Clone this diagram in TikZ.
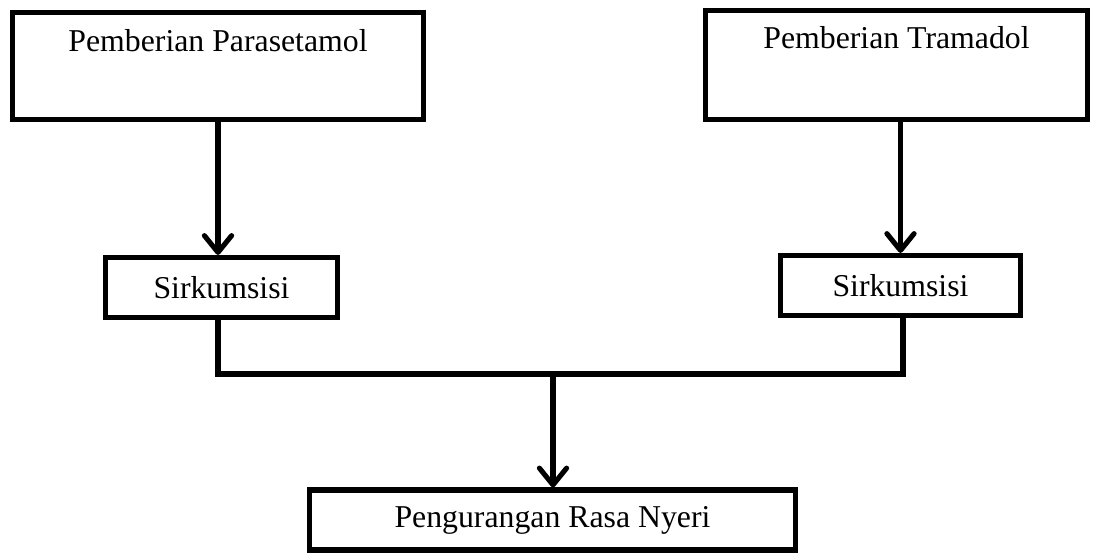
\documentclass[tikz,border=0pt]{standalone}
\usepackage{fontspec}
\setmainfont{Liberation Serif}
\usetikzlibrary{arrows.meta}

\tikzset{
  box/.style={draw, line width=1.8pt, rectangle, inner xsep=0pt, inner ysep=0pt,
    font=\fontsize{11.3}{13}\selectfont},
  flow/.style={line width=1.8pt, -{Straight Barb[length=0.21cm, width=0.34cm, line width=1.8pt, round]}},
  link/.style={line width=1.8pt}
}

\begin{document}
\begin{tikzpicture}[x=0.0125cm, y=-0.0125cm]

% Page frame
\useasboundingbox (0,0) rectangle (1093,555);

% Top boxes (text sits near the top edge)
\node[box, minimum width=5.14cm, text height=0.494cm, text depth=0.844cm]
  (para) at (218,66) {Pemberian Parasetamol};
\node[box, minimum width=4.775cm, text height=0.48cm, text depth=0.88cm]
  (trama) at (896.5,65) {Pemberian Tramadol};

% Middle boxes
\node[box, minimum width=2.9cm, minimum height=0.75cm] (sirkL) at (221.5,287.5) {Sirkumsisi};
\node[box, minimum width=3cm, minimum height=0.75cm] (sirkR) at (900.5,285.5) {Sirkumsisi};

% Bottom box
\node[box, minimum width=6.075cm, minimum height=0.75cm] (nyeri) at (552.5,520) {Pengurangan Rasa Nyeri};

% Join points
\coordinate (joinL) at (218,374);
\coordinate (joinR) at (903,374);
\coordinate (joinM) at (553,374);

% Arrows from top boxes
\draw[flow] (para.south) -- (sirkL.north -| para.south);
\draw[flow] (trama.south -| sirkR.north) -- (sirkR.north);

% Merge lines
\draw[link, line join=miter] (sirkL.south -| joinL) -- (joinL) -- (joinR) -- (sirkR.south -| joinR);

% Arrow to result
\draw[flow] (joinM) -- (joinM |- nyeri.north);

\end{tikzpicture}
\end{document}
